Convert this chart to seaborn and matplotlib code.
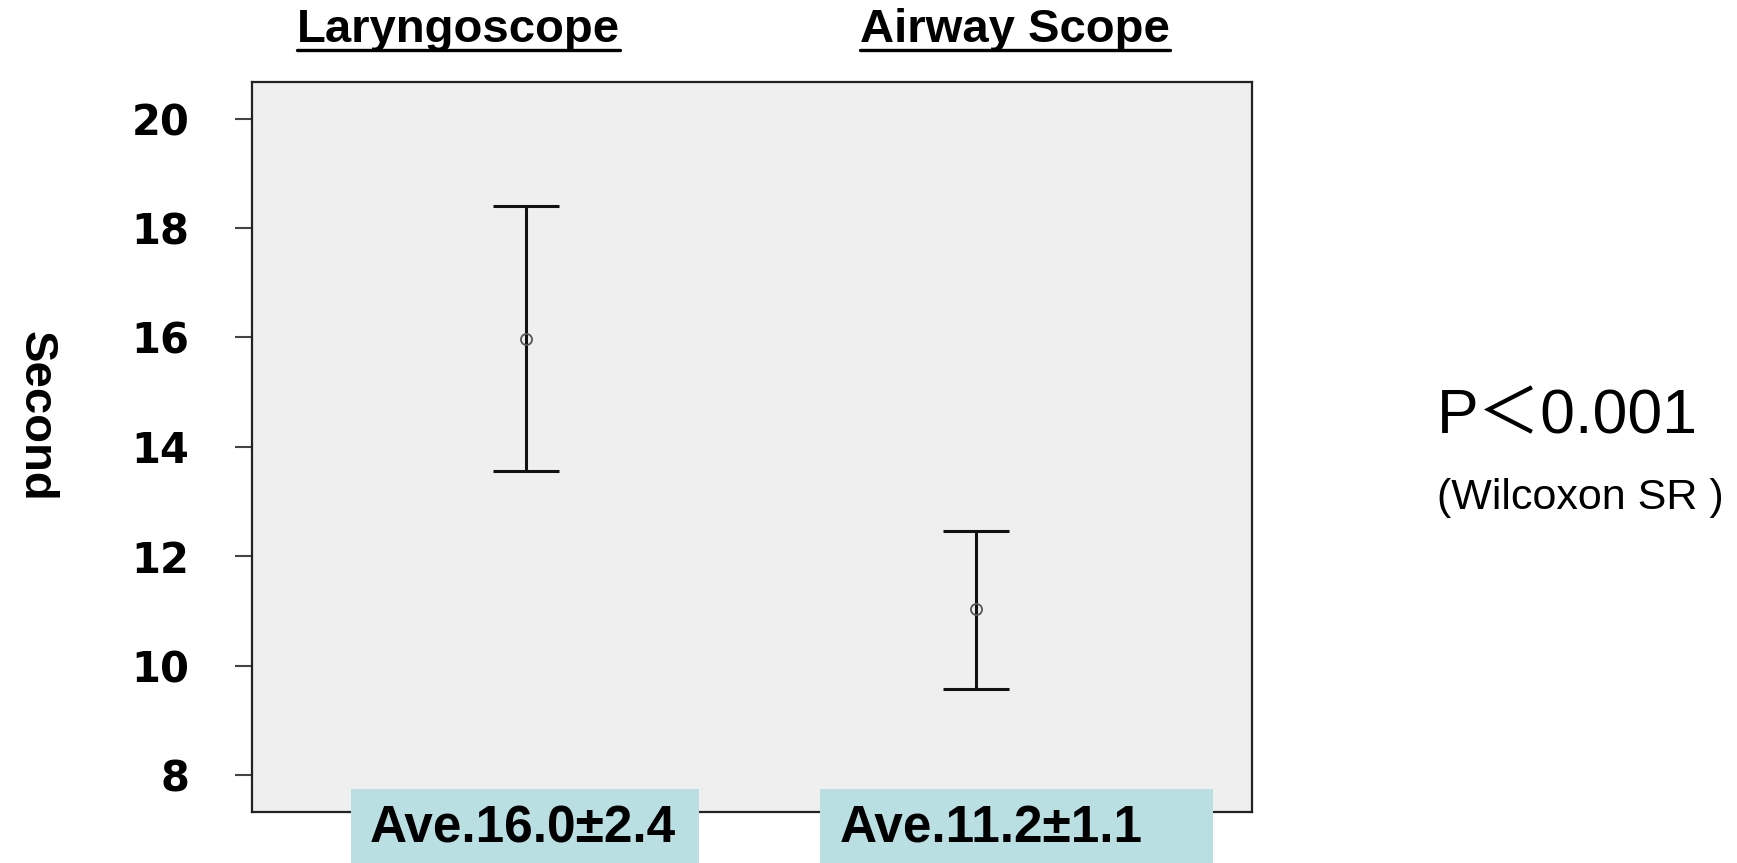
import numpy as np
import seaborn as sns
import matplotlib.pyplot as plt
from matplotlib.lines import Line2D
from matplotlib.patches import Rectangle

# data
groups = ['Laryngoscope', 'Airway Scope']
means = np.array([15.97, 11.04])
lower = np.array([13.57, 9.58])
upper = np.array([18.40, 12.47])
ave_labels = ['Ave.16.0±2.4', 'Ave.11.2±1.1']
y_ticks = [8, 10, 12, 14, 16, 18, 20]

sns.set_theme(style='white')
plt.rcParams['font.family'] = ['Liberation Sans', 'Noto Sans CJK JP', 'DejaVu Sans']
plt.rcParams['text.color'] = 'black'
plt.rcParams['ytick.labelcolor'] = 'black'
bold_font = ['Liberation Sans', 'DejaVu Sans']

fig = plt.figure(figsize=(17.37, 8.63), dpi=100)
ax = fig.add_axes([0.1451, 0.0591, 0.5757, 0.8459])
ax.set_facecolor('#efefef')

# mean markers + error bars
sns.pointplot(x=groups, y=means, errorbar=None, linestyle='none', marker='o',
              markersize=8, markerfacecolor='none', markeredgecolor='#555555',
              markeredgewidth=1.3, color='#555555', ax=ax, zorder=4)
ax.errorbar(np.arange(len(groups)), means, yerr=[means - lower, upper - means],
            fmt='none', ecolor='#111111', elinewidth=2.2, capsize=24,
            capthick=2.2, zorder=3)

ax.set_xlim(-0.608, 1.613)
ax.set_ylim(7.333, 20.667)
ax.set_xticks([])
ax.set_yticks(y_ticks)
ax.set_yticklabels([str(t) for t in y_ticks], fontsize=30, fontweight='bold',
                   family='DejaVu Sans', color='black')
ax.tick_params(axis='y', direction='out', length=12, width=1.5,
               color='#444444', pad=33, left=True)
for s in ax.spines.values():
    s.set_color('#222222')
    s.set_linewidth(1.6)
ax.set_xlabel('')
ax.set_ylabel('')

fig.text(0.0204, 0.518, 'Second', rotation=-90, fontsize=34, fontweight='bold',
         family=bold_font, ha='center', va='center')

# group titles, underlined
title_x = [0.2641, 0.5842]
titles = []
for x, g in zip(title_x, groups):
    titles.append(fig.text(x, 0.9513, g, fontsize=34, fontweight='bold',
                           family=bold_font, ha='center', va='baseline'))

# boxes with averages
box_x = [(0.2021, 0.4024), (0.4721, 0.6983)]
text_x = [0.213, 0.4834]
for (x0, x1), tx, lab in zip(box_x, text_x, ave_labels):
    fig.add_artist(Rectangle((x0, 0), x1 - x0, 0.0857, transform=fig.transFigure,
                             facecolor='#b9dfe3', edgecolor='none', zorder=5))
    fig.text(tx, 0.0394, lab, fontsize=37, fontweight='bold', family=bold_font,
             ha='left', va='center', zorder=6)

fig.text(0.8272, 0.5174, 'P＜0.001', fontsize=45,
         family=['Liberation Sans', 'Noto Sans CJK JP'], ha='left', va='center')
fig.text(0.8272, 0.4224, '(Wilcoxon SR )', fontsize=31,
         family=['Liberation Sans', 'Noto Sans CJK JP'], ha='left', va='center')

fig.canvas.draw()
r = fig.canvas.get_renderer()
W = fig.bbox.width
for t in titles:
    bb = t.get_window_extent(r)
    fig.add_artist(Line2D([bb.x0 / W, bb.x1 / W], [0.942, 0.942],
                          transform=fig.transFigure, color='black', linewidth=2.4))

fig.savefig('out.png', dpi=100)
